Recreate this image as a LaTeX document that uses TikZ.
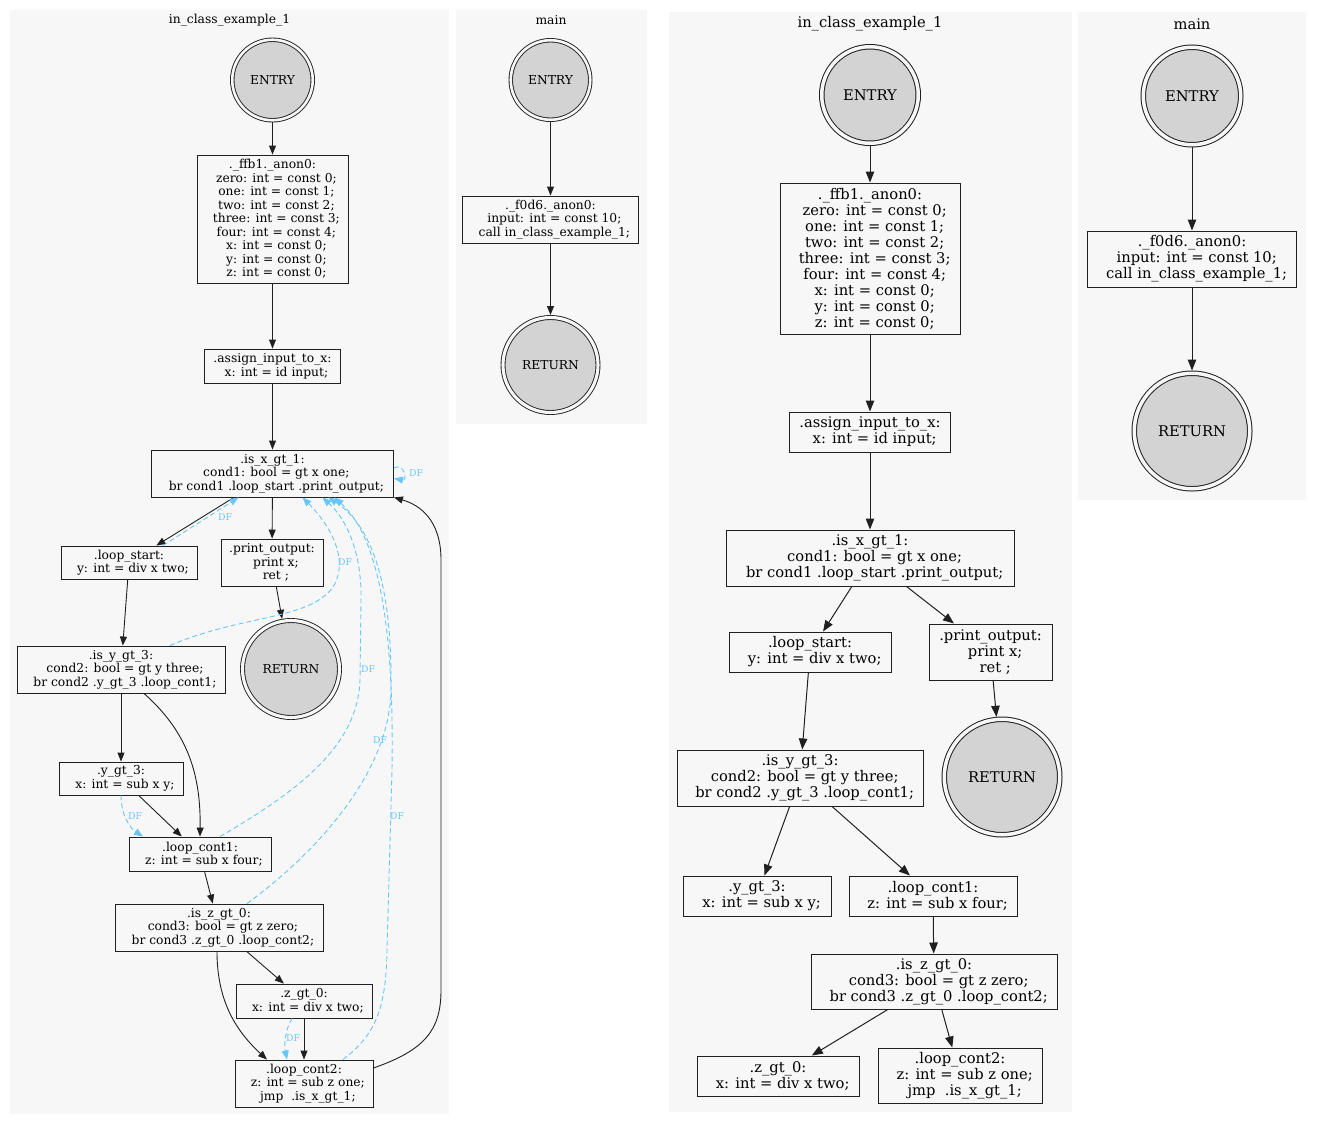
\documentclass[tikz,border=0pt]{standalone}
\usepackage{fontspec}
\setmainfont{DejaVu Serif}
\usetikzlibrary{arrows.meta}
\definecolor{clbg}{HTML}{F7F7F7}
\definecolor{gvgray}{HTML}{D3D3D3}
\definecolor{dfblue}{RGB}{105,198,250}
\definecolor{gvline}{HTML}{202020}
\newcommand\gvi{\hspace*{0.636em}}
\begin{document}
\begin{tikzpicture}[x=1pt,y=-1pt,
 fL/.style={font=\fontsize{12.3}{13.5}\selectfont},
 fR/.style={font=\fontsize{14.7}{16}\selectfont},
 boxL/.style={fL, draw=gvline, line width=0.9pt, rectangle, inner sep=0pt, align=center},
 boxR/.style={fR, draw=gvline, line width=1pt, rectangle, inner sep=0pt, align=center},
 dcL/.style={fL, circle, draw=gvline, line width=0.9pt, fill=gvgray, double=clbg, double distance=2.6pt, inner sep=0pt, outer sep=2.2pt},
 dcR/.style={fR, circle, draw=gvline, line width=1pt, fill=gvgray, double=clbg, double distance=3.5pt, inner sep=0pt, outer sep=2.7pt},
 eL/.style={draw=gvline, line width=0.9pt, -{Triangle[length=9pt,width=7pt]}},
 eR/.style={draw=gvline, line width=1pt, -{Triangle[length=11pt,width=8.5pt]}},
 dfe/.style={draw=dfblue, line width=0.9pt, dash pattern=on 5pt off 3pt, -{Triangle[length=9pt,width=7pt]}},
 dfl/.style={text=dfblue, font=\fontsize{9.3}{10}\selectfont, inner sep=0pt},
]
\useasboundingbox (0,0) rectangle (1318,1125);
\fill[white] (0,0) rectangle (1318,1125);
% clusters
\fill[clbg] (10,10) rectangle (449,1114);
\fill[clbg] (456,10) rectangle (647,424);
\fill[clbg] (669,12) rectangle (1072,1112);
\fill[clbg] (1078,12) rectangle (1306,500);
\node[fL] (t1) at (229.5,20) {in\_class\_example\_1};
\node[fL] (t2) at (551,20) {main};
\node[fR] (t3) at (870,24) {in\_class\_example\_1};
\node[fR] (t4) at (1192,24) {main};

% ---------------- left cluster ----------------
\node[dcL, minimum size=80.5pt] (L-entry) at (272.5,80) {ENTRY};
\node[boxL, minimum width=151pt, minimum height=128pt] (L-ffb1) at (272.5,219) {.\_ffb1.\_anon0:\\\gvi zero: int = const 0;\\\gvi one: int = const 1;\\\gvi two: int = const 2;\\\gvi three: int = const 3;\\\gvi four: int = const 4;\\\gvi x: int = const 0;\\\gvi y: int = const 0;\\\gvi z: int = const 0;};
\node[boxL, minimum width=136pt, minimum height=34pt] (L-assign) at (272.5,366) {.assign\_input\_to\_x:\\\gvi x: int = id input;};
\node[boxL, minimum width=242pt, minimum height=47pt] (L-isx) at (272.5,473.5) {.is\_x\_gt\_1:\\\gvi cond1: bool = gt x one;\\\gvi br cond1 .loop\_start .print\_output;};
\node[boxL, minimum width=136pt, minimum height=33pt] (L-ls) at (129,562.5) {.loop\_start:\\\gvi y: int = div x two;};
\node[boxL, minimum width=102pt, minimum height=47pt] (L-print) at (272,562.5) {.print\_output:\\\gvi print x;\\\gvi ret ;};
\node[dcL, minimum size=97pt, double distance=3.1pt, outer sep=2.5pt] (L-ret) at (291,669) {RETURN};
\node[boxL, minimum width=208pt, minimum height=47pt] (L-isy) at (121,669.5) {.is\_y\_gt\_3:\\\gvi cond2: bool = gt y three;\\\gvi br cond2 .y\_gt\_3 .loop\_cont1;};
\node[boxL, minimum width=124pt, minimum height=33pt] (L-ygt3) at (121,778.5) {.y\_gt\_3:\\\gvi x: int = sub x y;};
\node[boxL, minimum width=142pt, minimum height=34pt] (L-lc1) at (200,854) {.loop\_cont1:\\\gvi z: int = sub x four;};
\node[boxL, minimum width=208pt, minimum height=47pt] (L-isz) at (219,927.5) {.is\_z\_gt\_0:\\\gvi cond3: bool = gt z zero;\\\gvi br cond3 .z\_gt\_0 .loop\_cont2;};
\node[boxL, minimum width=136pt, minimum height=34pt] (L-zgt0) at (304,1001) {.z\_gt\_0:\\\gvi x: int = div x two;};
\node[boxL, minimum width=138pt, minimum height=47pt] (L-lc2) at (304,1083.5) {.loop\_cont2:\\\gvi z: int = sub z one;\\\gvi jmp\ \ .is\_x\_gt\_1;};

\draw[eL] (L-entry) -- (L-ffb1);
\draw[eL] (L-ffb1) -- (L-assign);
\draw[eL] (L-assign) -- (L-isx);
\draw[eL] (L-isx) -- (L-ls);
\draw[eL] (L-isx) -- (L-print);
\draw[eL] (L-print) -- (L-ret);
\draw[eL] (L-ls) -- (L-isy);
\draw[eL] (L-isy) -- (L-ygt3);
\draw[eL] ([xshift=23pt]L-isy.south) .. controls (185,730) and (201,770) .. (L-lc1.north);
\draw[eL] (L-ygt3) -- (L-lc1);
\draw[eL] (L-lc1) -- (L-isz);
\draw[eL] (L-isz) -- (L-zgt0);
\draw[eL] ([xshift=-2pt]L-isz.south) .. controls (217,1000) and (235,1030) .. ([xshift=-37pt]L-lc2.north);
\draw[eL] (L-zgt0) -- (L-lc2);
\draw[eL] ([yshift=15.5pt]L-lc2.east) .. controls (425,1050) and (441,1030) .. (441,990) -- (441,560) .. controls (441,520) and (420,505) .. (L-isx.south east);

% DF edges
\draw[dfe] ([yshift=5.5pt]L-isx.east) .. controls (404,462) and (408,481) .. ([yshift=-5pt]L-isx.east) node[dfl] at (416,473) {DF};
\draw[dfe] ([xshift=34pt]L-ls.north) -- ([xshift=-34pt]L-isx.south) node[dfl] at (225,517) {DF};
\draw[dfe] ([xshift=49pt]L-isy.north) .. controls (240,615) and (310,620) .. (333,587) .. controls (350,560) and (330,525) .. ([xshift=30pt]L-isx.south) node[dfl] at (345,562) {DF};
\draw[dfe] ([xshift=20pt]L-lc1.north) .. controls (300,790) and (358,745) .. (360,680) -- (361,600) .. controls (362,550) and (345,518) .. ([xshift=50pt]L-isx.south) node[dfl] at (368,669) {DF};
\draw[dfe] ([xshift=28pt]L-isz.north) .. controls (320,850) and (390,770) .. (391,690) .. controls (392,600) and (378,530) .. ([xshift=56pt]L-isx.south) node[dfl] at (380,740) {DF};
\draw[dfe] ([xshift=39pt]L-lc2.north) .. controls (375,1035) and (386,1010) .. (387,950) -- (392,770) .. controls (394,640) and (382,540) .. ([xshift=62pt]L-isx.south) node[dfl] at (397,816) {DF};
\draw[dfe] (L-ygt3.south) .. controls (121,815) and (130,828) .. ([xshift=-57pt]L-lc1.north) node[dfl] at (135,816) {DF};
\draw[dfe] ([xshift=-12pt]L-zgt0.south) .. controls (285,1030) and (284,1045) .. ([xshift=-17pt]L-lc2.north) node[dfl] at (293,1038) {DF};

% ---------------- middle main ----------------
\node[dcL, minimum size=79.5pt] (M-entry) at (550.5,80) {ENTRY};
\node[boxL, minimum width=176pt, minimum height=47pt] (M-f0d6) at (550.5,219.5) {.\_f0d6.\_anon0:\\\gvi input: int = const 10;\\\gvi call in\_class\_example\_1;};
\node[dcL, minimum size=95pt, double distance=3.1pt, outer sep=2.5pt] (M-ret) at (550.5,365) {RETURN};
\draw[eL] (M-entry) -- (M-f0d6);
\draw[eL] (M-f0d6) -- (M-ret);

% ---------------- right cluster ----------------
\node[dcR, minimum size=96.5pt] (R-entry) at (870,95) {ENTRY};
\node[boxR, minimum width=180pt, minimum height=151pt] (R-ffb1) at (870,258.5) {.\_ffb1.\_anon0:\\\gvi zero: int = const 0;\\\gvi one: int = const 1;\\\gvi two: int = const 2;\\\gvi three: int = const 3;\\\gvi four: int = const 4;\\\gvi x: int = const 0;\\\gvi y: int = const 0;\\\gvi z: int = const 0;};
\node[boxR, minimum width=161pt, minimum height=40pt] (R-assign) at (870,432) {.assign\_input\_to\_x:\\\gvi x: int = id input;};
\node[boxR, minimum width=288pt, minimum height=56pt] (R-isx) at (870,558) {.is\_x\_gt\_1:\\\gvi cond1: bool = gt x one;\\\gvi br cond1 .loop\_start .print\_output;};
\node[boxR, minimum width=162pt, minimum height=40pt] (R-ls) at (810,652) {.loop\_start:\\\gvi y: int = div x two;};
\node[boxR, minimum width=123pt, minimum height=56pt] (R-print) at (990.5,652) {.print\_output:\\\gvi print x;\\\gvi ret ;};
\node[dcR, minimum size=115.5pt] (R-ret) at (1002,777) {RETURN};
\node[boxR, minimum width=246pt, minimum height=56pt] (R-isy) at (800,778) {.is\_y\_gt\_3:\\\gvi cond2: bool = gt y three;\\\gvi br cond2 .y\_gt\_3 .loop\_cont1;};
\node[boxR, minimum width=148pt, minimum height=40pt] (R-ygt3) at (757,896) {.y\_gt\_3:\\\gvi x: int = sub x y;};
\node[boxR, minimum width=168pt, minimum height=40pt] (R-lc1) at (933,896) {.loop\_cont1:\\\gvi z: int = sub x four;};
\node[boxR, minimum width=246pt, minimum height=55pt] (R-isz) at (934,981.5) {.is\_z\_gt\_0:\\\gvi cond3: bool = gt z zero;\\\gvi br cond3 .z\_gt\_0 .loop\_cont2;};
\node[boxR, minimum width=162pt, minimum height=40pt] (R-zgt0) at (778,1076) {.z\_gt\_0:\\\gvi x: int = div x two;};
\node[boxR, minimum width=164pt, minimum height=55pt] (R-lc2) at (960,1075.5) {.loop\_cont2:\\\gvi z: int = sub z one;\\\gvi jmp\ \ .is\_x\_gt\_1;};

\draw[eR] (R-entry) -- (R-ffb1);
\draw[eR] (R-ffb1) -- (R-assign);
\draw[eR] (R-assign) -- (R-isx);
\draw[eR] (R-isx) -- (R-ls);
\draw[eR] (R-isx) -- (R-print);
\draw[eR] (R-print) -- (R-ret);
\draw[eR] (R-ls) -- (R-isy);
\draw[eR] (R-isy) -- (R-ygt3);
\draw[eR] (R-isy) -- (R-lc1);
\draw[eR] (R-lc1) -- (R-isz);
\draw[eR] (R-isz) -- (R-zgt0);
\draw[eR] (R-isz) -- (R-lc2);

% ---------------- right main ----------------
\node[dcR, minimum size=97.5pt] (R2-entry) at (1192,96) {ENTRY};
\node[boxR, minimum width=209pt, minimum height=56pt] (R2-f0d6) at (1192,259) {.\_f0d6.\_anon0:\\\gvi input: int = const 10;\\\gvi call in\_class\_example\_1;};
\node[dcR, minimum size=115.5pt] (R2-ret) at (1192,431) {RETURN};
\draw[eR] (R2-entry) -- (R2-f0d6);
\draw[eR] (R2-f0d6) -- (R2-ret);
\end{tikzpicture}
\end{document}
